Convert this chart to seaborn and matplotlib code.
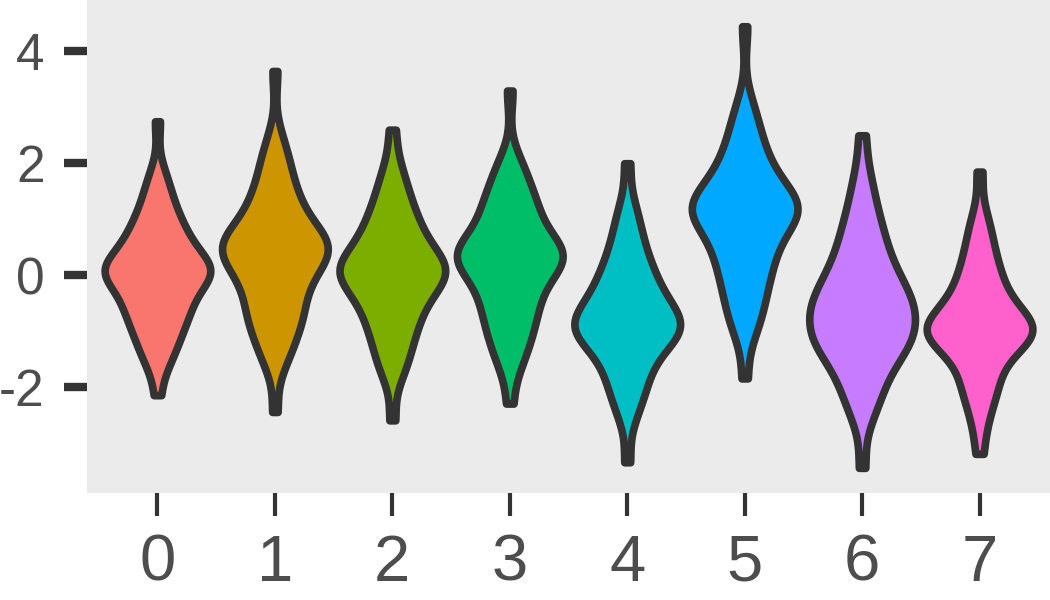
import numpy as np
import pandas as pd
import matplotlib
matplotlib.use("Agg")
import matplotlib.pyplot as plt
import seaborn as sns

categories = ["0", "1", "2", "3", "4", "5", "6", "7"]
g0 = [-2.15, -1.7, -1.55, -1.45, -1.35, -1.25, -1.15, -1.1, -1.0, -0.95, -0.9, -0.8, -0.75, -0.7, -0.65, -0.6, -0.55, -0.5, -0.45, -0.4, -0.35, -0.3, -0.25, -0.2, -0.15, -0.1, -0.05, -0.05, 0.0, 0.0, 0.05, 0.05, 0.1, 0.1, 0.1, 0.15, 0.15, 0.2, 0.2, 0.25, 0.3, 0.35, 0.4, 0.45, 0.5, 0.55, 0.6, 0.65, 0.7, 0.75, 0.8, 0.9, 0.95, 1.05, 1.1, 1.2, 1.3, 1.45, 1.55, 1.7, 1.9, 2.75]
g1 = [-2.45, -1.65, -1.5, -1.4, -1.25, -1.15, -1.05, -0.95, -0.85, -0.8, -0.75, -0.7, -0.6, -0.55, -0.45, -0.4, -0.3, -0.25, -0.15, -0.1, -0.05, 0.0, 0.05, 0.1, 0.15, 0.2, 0.25, 0.3, 0.35, 0.4, 0.4, 0.45, 0.45, 0.5, 0.5, 0.55, 0.55, 0.6, 0.6, 0.65, 0.7, 0.75, 0.8, 0.85, 0.9, 0.95, 1.05, 1.1, 1.2, 1.25, 1.35, 1.4, 1.5, 1.6, 1.75, 1.85, 2.0, 2.1, 2.3, 2.5, 3.65]
g2 = [-2.6, -1.85, -1.7, -1.55, -1.45, -1.3, -1.2, -1.1, -1.0, -0.9, -0.85, -0.75, -0.7, -0.6, -0.55, -0.45, -0.4, -0.35, -0.3, -0.25, -0.2, -0.15, -0.1, -0.05, 0.0, 0.0, 0.05, 0.05, 0.1, 0.1, 0.15, 0.15, 0.2, 0.25, 0.3, 0.35, 0.4, 0.45, 0.5, 0.55, 0.6, 0.7, 0.75, 0.85, 0.9, 1.0, 1.05, 1.15, 1.25, 1.4, 1.5, 1.65, 1.8, 2.05, 2.6]
g3 = [-2.3, -1.7, -1.55, -1.4, -1.25, -1.15, -1.05, -0.95, -0.85, -0.75, -0.7, -0.6, -0.5, -0.45, -0.35, -0.3, -0.2, -0.15, -0.05, 0.0, 0.05, 0.1, 0.15, 0.2, 0.25, 0.3, 0.3, 0.35, 0.35, 0.4, 0.4, 0.45, 0.45, 0.5, 0.55, 0.6, 0.65, 0.75, 0.8, 0.9, 1.0, 1.05, 1.15, 1.2, 1.25, 1.35, 1.45, 1.55, 1.7, 1.8, 1.95, 2.1, 3.3]
g4 = [-3.35, -2.6, -2.4, -2.25, -2.1, -2.0, -1.9, -1.8, -1.7, -1.6, -1.5, -1.45, -1.35, -1.3, -1.25, -1.2, -1.15, -1.1, -1.05, -1.0, -1.0, -0.95, -0.95, -0.9, -0.9, -0.85, -0.85, -0.8, -0.75, -0.7, -0.65, -0.6, -0.55, -0.5, -0.45, -0.4, -0.35, -0.3, -0.2, -0.15, -0.05, 0.0, 0.1, 0.15, 0.25, 0.35, 0.5, 0.6, 0.75, 0.9, 1.1, 1.3, 2.0]
g5 = [-1.85, -1.1, -0.95, -0.8, -0.65, -0.55, -0.4, -0.3, -0.2, -0.1, 0.0, 0.1, 0.2, 0.25, 0.35, 0.4, 0.5, 0.55, 0.65, 0.7, 0.8, 0.85, 0.9, 0.95, 1.0, 1.05, 1.1, 1.15, 1.15, 1.2, 1.2, 1.25, 1.25, 1.3, 1.3, 1.35, 1.4, 1.45, 1.5, 1.6, 1.65, 1.75, 1.8, 1.9, 1.95, 2.05, 2.15, 2.3, 2.4, 2.55, 2.7, 2.9, 3.1, 4.45]
g6 = [-3.45, -2.6, -2.4, -2.25, -2.1, -2.0, -1.85, -1.75, -1.65, -1.55, -1.45, -1.4, -1.35, -1.3, -1.25, -1.2, -1.15, -1.1, -1.05, -1.0, -0.95, -0.9, -0.85, -0.8, -0.75, -0.7, -0.65, -0.6, -0.55, -0.5, -0.45, -0.4, -0.35, -0.3, -0.25, -0.2, -0.1, -0.05, 0.05, 0.1, 0.2, 0.3, 0.4, 0.5, 0.6, 0.75, 0.85, 1.0, 1.15, 1.35, 1.6, 1.85, 2.5]
g7 = [-3.2, -2.75, -2.5, -2.3, -2.15, -2.05, -1.95, -1.85, -1.75, -1.6, -1.5, -1.45, -1.35, -1.3, -1.25, -1.2, -1.15, -1.1, -1.1, -1.05, -1.05, -1.0, -1.0, -0.95, -0.95, -0.9, -0.9, -0.85, -0.8, -0.75, -0.7, -0.65, -0.6, -0.55, -0.45, -0.4, -0.3, -0.25, -0.15, -0.05, 0.05, 0.15, 0.25, 0.4, 0.55, 0.7, 0.9, 1.1, 1.85]
groups = [g0, g1, g2, g3, g4, g5, g6, g7]
colors = ["#F8766D", "#CD9600", "#7CAE00", "#00BE67", "#00BFC4", "#00A9FF", "#C77CFF", "#FF61CC"]
yticks = [-2, 0, 2, 4]
ytick_labels = ["-2", "0", "2", "4"]

rows = []
for c, vals in zip(categories, groups):
    for v in vals:
        rows.append((c, v))
df = pd.DataFrame(rows, columns=["grp", "value"])

sns.set_theme(style="white")
plt.rcParams['font.family'] = ['Liberation Sans', 'DejaVu Sans']

fig = plt.figure(figsize=(10.5, 6), dpi=100)
ax = fig.add_axes([87/1050, 107/600, 963/1050, 493/600])
ax.set_facecolor("#EBEBEB")

sns.violinplot(data=df, x="grp", y="value", hue="grp", order=categories,
               hue_order=categories, palette=colors, legend=False,
               cut=0, inner=None, width=0.9, linewidth=5.5, linecolor="#333333",
               bw_method="scott", bw_adjust=0.72, density_norm="area",
               saturation=1, ax=ax)
for coll in ax.collections:
    coll.set_joinstyle("round")
    coll.set_capstyle("round")

ax.set_xlim(-0.6, 7.6)
ax.set_ylim(-3.90, 4.92)
ax.set_yticks(yticks)
ax.set_yticklabels(ytick_labels)
ax.set_xlabel("")
ax.set_ylabel("")
for s in ax.spines.values():
    s.set_visible(False)
ax.tick_params(axis="y", length=16.5, width=6, color="#333333", pad=14,
               labelsize=37, labelcolor="#4D4D4D", left=True)
ax.tick_params(axis="x", length=16.5, width=3, color="#333333", pad=13,
               labelsize=47, labelcolor="#4D4D4D", bottom=True)
ax.yaxis.set_tick_params(direction="out")
ax.xaxis.set_tick_params(direction="out")

fig.savefig("out.png", dpi=100, facecolor="white")
